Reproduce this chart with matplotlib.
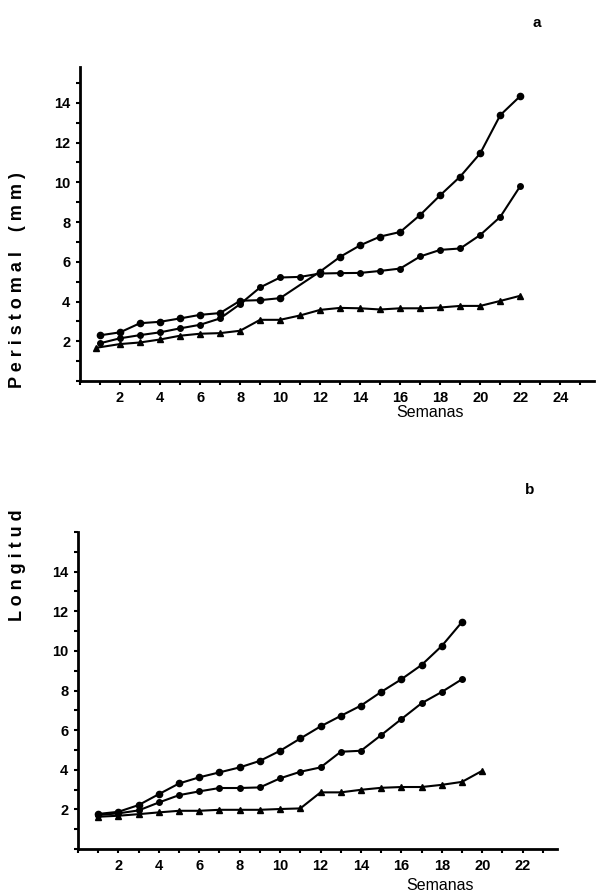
import matplotlib
matplotlib.use('Agg')
import matplotlib.pyplot as plt
from matplotlib.ticker import MultipleLocator

plt.rcParams['font.family'] = ['Liberation Sans', 'DejaVu Sans']

# panel a
weeks_a_top = [1, 2, 3, 4, 5, 6, 7, 8, 9, 10, 12, 13, 14, 15, 16, 17, 18, 19, 20, 21, 22]
a_top = [2.3, 2.45, 2.91, 2.98, 3.15, 3.33, 3.42, 4.04, 4.07, 4.17, 5.51, 6.25, 6.83,
         7.27, 7.5, 8.36, 9.35, 10.29, 11.46, 13.38, 14.34]
weeks_a_mid = list(range(1, 23))
a_mid = [1.9, 2.15, 2.31, 2.45, 2.65, 2.83, 3.15, 3.87, 4.71, 5.21, 5.24, 5.41, 5.43,
         5.44, 5.54, 5.66, 6.27, 6.6, 6.67, 7.35, 8.26, 9.81]
weeks_a_tri = [0.8] + list(range(2, 23))
a_tri = [1.67, 1.86, 1.94, 2.09, 2.28, 2.38, 2.41, 2.53, 3.08, 3.08, 3.3, 3.58, 3.68,
         3.66, 3.6, 3.66, 3.66, 3.7, 3.78, 3.78, 4.03, 4.29]

# panel b
weeks_b = list(range(1, 20))
b_top = [1.77, 1.88, 2.22, 2.77, 3.31, 3.62, 3.87, 4.12, 4.45, 4.96, 5.58, 6.19, 6.72,
         7.24, 7.93, 8.57, 9.29, 10.25, 11.46]
b_mid = [1.72, 1.8, 1.95, 2.35, 2.72, 2.91, 3.08, 3.08, 3.11, 3.57, 3.9, 4.12, 4.91,
         4.96, 5.75, 6.56, 7.36, 7.93, 8.57]
weeks_b_tri = list(range(1, 21))
b_tri = [1.63, 1.68, 1.76, 1.85, 1.93, 1.93, 1.98, 1.98, 1.98, 2.02, 2.05, 2.86, 2.86,
         2.99, 3.09, 3.13, 3.13, 3.24, 3.39, 3.95]

fig = plt.figure(figsize=(5.96, 8.94), dpi=100)
ax_a = fig.add_axes([0.1342, 0.5738, 0.863, 0.3512])
ax_b = fig.add_axes([0.1309, 0.0503, 0.8037, 0.3546])


def style(ax, xmax, xmaj_max):
    for s in ['top', 'right']:
        ax.spines[s].set_visible(False)
    ax.spines['left'].set_linewidth(2)
    ax.spines['bottom'].set_linewidth(2)
    ax.set_xlim(0, xmax)
    ax.set_xticks(range(2, xmaj_max + 1, 2))
    ax.xaxis.set_minor_locator(MultipleLocator(1))
    ax.set_yticks(range(2, 15, 2))
    ax.yaxis.set_minor_locator(MultipleLocator(1))
    ax.tick_params(which='both', direction='out', length=3, width=1.5)
    ax.tick_params(axis='both', labelsize=10.5, pad=4)
    for lab in ax.get_xticklabels() + ax.get_yticklabels():
        lab.set_fontweight('bold')


lk = dict(color='black', lw=1.5)
ax_a.plot(weeks_a_top, a_top, marker='o', ms=4.5, **lk)
ax_a.plot(weeks_a_mid, a_mid, marker='o', ms=4, **lk)
ax_a.plot(weeks_a_tri, a_tri, marker='^', ms=5, **lk)
ax_a.set_ylim(0, 15.8)
style(ax_a, 25.7, 24)

ax_b.plot(weeks_b, b_top, marker='o', ms=4.5, **lk)
ax_b.plot(weeks_b, b_mid, marker='o', ms=4, **lk)
ax_b.plot(weeks_b_tri, b_tri, marker='^', ms=5, **lk)
ax_b.set_ylim(0, 16)
style(ax_b, 23.7, 22)

fig.text(430 / 596, 1 - 412 / 894, 'Semanas', ha='center', va='center', fontsize=11.5)
fig.text(440 / 596, 1 - 885 / 894, 'Semanas', ha='center', va='center', fontsize=11.5)
fig.text(537 / 596, 1 - 23 / 894, 'a', ha='center', va='center', fontsize=11, fontweight='bold')
fig.text(530 / 596, 1 - 490 / 894, 'b', ha='center', va='center', fontsize=11, fontweight='bold')

fig.text(18 / 596, 1 - 565 / 894, 'L o n g i t u d', rotation=90, ha='center',
         va='center', fontsize=13, fontweight='bold')
fig.text(18 / 596, 1 - 280 / 894, 'P e r i s t o m a l    ( m m )', rotation=90,
         ha='center', va='center', fontsize=13, fontweight='bold')

fig.savefig('out.png', dpi=100)
